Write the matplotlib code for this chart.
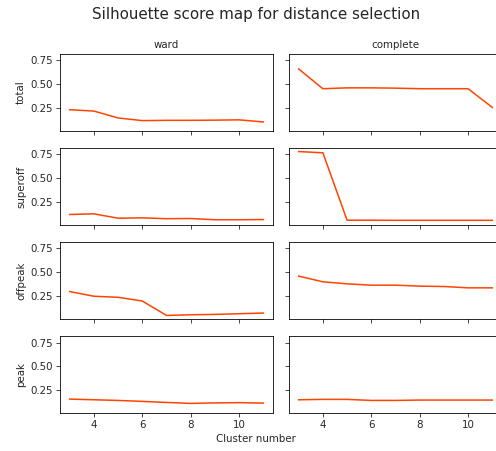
import matplotlib
matplotlib.use("Agg")
import matplotlib.pyplot as plt

# cluster counts on the x axis
clusters = [3, 4, 5, 6, 7, 8, 9, 10, 11]
periods = ["total", "superoff", "offpeak", "peak"]
methods = ["ward", "complete"]

# silhouette scores
total_ward = [0.233, 0.219, 0.147, 0.119, 0.122, 0.122, 0.124, 0.127, 0.105]
total_complete = [0.66, 0.453, 0.462, 0.462, 0.459, 0.453, 0.453, 0.453, 0.257]
superoff_ward = [0.121, 0.128, 0.082, 0.086, 0.077, 0.079, 0.066, 0.066, 0.068]
superoff_complete = [0.78, 0.767, 0.061, 0.061, 0.06, 0.06, 0.06, 0.06, 0.06]
offpeak_ward = [0.299, 0.25, 0.239, 0.20, 0.049, 0.056, 0.06, 0.067, 0.074]
offpeak_complete = [0.461, 0.401, 0.38, 0.366, 0.366, 0.356, 0.352, 0.338, 0.338]
peak_ward = [0.158, 0.151, 0.144, 0.134, 0.123, 0.113, 0.118, 0.121, 0.116]
peak_complete = [0.151, 0.155, 0.155, 0.144, 0.144, 0.148, 0.148, 0.148, 0.148]

scores = {
    "total": [total_ward, total_complete],
    "superoff": [superoff_ward, superoff_complete],
    "offpeak": [offpeak_ward, offpeak_complete],
    "peak": [peak_ward, peak_complete],
}

# reference looks like a default figure rendered at ~74 dpi
s = 0.74
plt.rcParams.update({
    "font.size": 10 * s,
    "axes.titlesize": 10 * s,
    "axes.labelsize": 10 * s,
    "xtick.labelsize": 10 * s,
    "ytick.labelsize": 10 * s,
    "xtick.major.size": 3.5 * s,
    "ytick.major.size": 3.5 * s,
    "xtick.major.width": 0.8 * s,
    "ytick.major.width": 0.8 * s,
    "xtick.major.pad": 3.5 * s,
    "ytick.major.pad": 3.5 * s,
    "axes.linewidth": 0.8 * s,
    "axes.labelpad": 4 * s,
    "axes.titlepad": 6 * s,
    "text.color": "#262626",
    "axes.labelcolor": "#262626",
    "xtick.color": "#262626",
    "ytick.color": "#262626",
})

W, H = 496, 451
fig, axes = plt.subplots(
    4, 2, figsize=(W / 100, H / 100), dpi=100, sharex=True, sharey=True,
    gridspec_kw=dict(left=60 / W, right=502 / W, top=1 - 54 / H,
                     bottom=1 - 413 / H, wspace=0.075, hspace=0.225),
)

for i, period in enumerate(periods):
    for j, method in enumerate(methods):
        ax = axes[i, j]
        ax.plot(clusters, scores[period][j], color="orangered", linewidth=1.1)
        if i == 0:
            ax.set_title(method)
        if j == 0:
            ax.set_ylabel(period)

axes[0, 0].set_yticks([0.25, 0.5, 0.75])
axes[0, 0].set_xticks([4, 6, 8, 10])

cx = 256 / W
fig.suptitle("Silhouette score map for distance selection", x=cx, y=1 - 15 / H,
             va="center", fontsize=10.9)
fig.text(cx, 1 - 439 / H, "Cluster number", ha="center", va="center")

fig.savefig("out.png", dpi=100)
